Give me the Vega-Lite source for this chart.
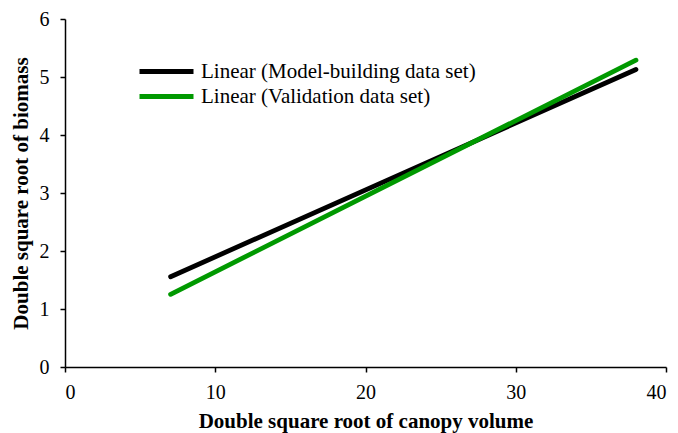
{
  "$schema": "https://vega.github.io/schema/vega-lite/v6.json",
  "autosize": "none",
  "width": 601,
  "height": 348,
  "padding": {"left": 65, "top": 19, "right": 12, "bottom": 66},
  "background": "white",
  "config": {
    "view": {"stroke": null},
    "font": "Liberation Serif",
    "axis": {"labelFont": "Liberation Serif, Times New Roman, serif", "titleFont": "Liberation Serif, Times New Roman, serif"},
    "legend": {"labelFont": "Liberation Serif, Times New Roman, serif"}
  },
  "data": {
    "values": [
      {"series": "Linear (Model-building data set)", "x": 7.03, "y": 1.557},
      {"series": "Linear (Model-building data set)", "x": 38.0, "y": 5.13},
      {"series": "Linear (Validation data set)", "x": 7.03, "y": 1.253},
      {"series": "Linear (Validation data set)", "x": 38.0, "y": 5.29}
    ]
  },
  "mark": {"type": "line", "strokeWidth": 4.8, "strokeCap": "round"},
  "encoding": {
    "x": {
      "field": "x", "type": "quantitative",
      "scale": {"domain": [0, 40], "nice": false},
      "axis": {
        "values": [0, 10, 20, 30, 40], "grid": false,
        "title": "Double square root of canopy volume",
        "titleFontSize": 21, "titleFontWeight": "bold",
        "titleColor": "black", "titlePadding": 8,
        "labelFontSize": 20, "labelColor": "black",
        "labelPadding": 10, "domainColor": "black", "domainWidth": 1.5,
        "tickColor": "black", "tickSize": 5, "tickWidth": 1.5
      }
    },
    "y": {
      "field": "y", "type": "quantitative",
      "scale": {"domain": [0, 6], "nice": false},
      "axis": {
        "values": [0, 1, 2, 3, 4, 5, 6], "grid": false,
        "title": "Double square root of biomass",
        "titleFontSize": 21, "titleFontWeight": "bold",
        "titleColor": "black", "titlePadding": 8,
        "labelFontSize": 20, "labelColor": "black",
        "labelPadding": 11, "domainColor": "black", "domainWidth": 1.5,
        "tickColor": "black", "tickSize": 5, "tickWidth": 1.5
      }
    },
    "color": {
      "field": "series", "type": "nominal",
      "scale": {
        "domain": ["Linear (Model-building data set)", "Linear (Validation data set)"],
        "range": ["#000000", "#009900"]
      },
      "legend": {
        "title": null, "orient": "none", "legendX": 90, "legendY": 41,
        "symbolType": "M-3,0H3", "symbolSize": 324, "symbolStrokeWidth": 4.8,
        "labelFontSize": 21, "labelColor": "black",
        "labelOffset": 23, "rowPadding": 3, "labelLimit": 0, "padding": 0
      }
    }
  }
}
